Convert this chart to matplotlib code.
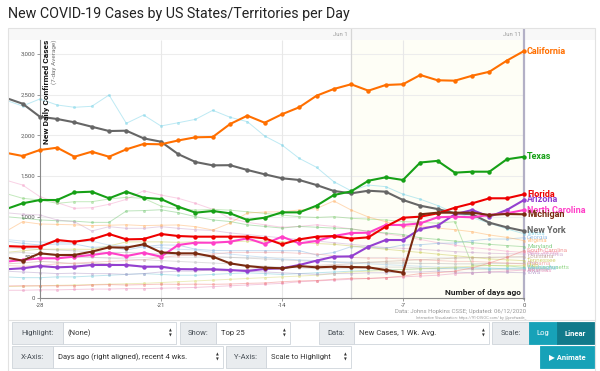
import matplotlib
matplotlib.use("Agg")
import matplotlib.pyplot as plt
from matplotlib.patches import Rectangle

plt.rcParams['font.family'] = ['Roboto', 'DejaVu Sans']

W, H = 600, 371

# days ago, x axis
days = list(range(-30, 1))

# highlighted states (7-day avg new cases)
california = [1787, 1746, 1820, 1848, 1737, 1799, 1737, 1828, 1894, 1890, 1937,
              1976, 1980, 2139, 2242, 2155, 2259, 2345, 2487, 2570, 2628,
              2549, 2619, 2628, 2742, 2677, 2672, 2733, 2782, 2918, 3037]
new_york = [2463, 2389, 2229, 2201, 2160, 2106, 2053, 2057, 1963, 1922, 1769,
            1672, 1631, 1633, 1574, 1521, 1472, 1451, 1389, 1316, 1287,
            1319, 1307, 1205, 1135, 1094, 1041, 1029, 926, 869, 824]
texas = [1090, 1164, 1205, 1205, 1299, 1307, 1226, 1307, 1233, 1217, 1123,
         1049, 1070, 1041, 959, 987, 1053, 1053, 1135, 1266, 1311,
         1442, 1484, 1451, 1666, 1686, 1541, 1553, 1553, 1705, 1737]
florida = [639, 631, 631, 713, 692, 721, 787, 721, 725, 787, 762,
           754, 754, 754, 754, 734, 660, 721, 754, 762, 730,
           746, 877, 987, 1000, 1041, 1110, 1164, 1226, 1226, 1275]
arizona = [353, 365, 393, 377, 385, 406, 406, 406, 385, 385, 355,
           353, 353, 344, 332, 357, 365, 406, 459, 508, 512,
           631, 713, 713, 848, 889, 1029, 1082, 1000, 1082, 1205]
north_carolina = [446, 467, 488, 488, 508, 529, 557, 516, 557, 508, 652,
                  680, 680, 692, 734, 664, 754, 672, 701, 762, 799,
                  803, 898, 898, 918, 992, 1000, 992, 1021, 1041, 1082]
michigan = [500, 459, 549, 529, 529, 570, 623, 619, 660, 561, 549,
            549, 508, 426, 393, 373, 365, 393, 377, 385, 381,
            377, 344, 311, 1029, 1049, 1049, 1049, 1021, 1033, 1029]

# the other states of the top 25 (drawn faint)
illinois = [2434, 2361, 2447, 2373, 2345, 2357, 2496, 2148, 2250, 2115, 2155,
            2197, 2308, 2222, 2168, 1992, 1881, 1717, 1607, 1430, 1318,
            1389, 1369, 1277, 1215, 1137, 1045, 990, 920, 850, 790]
new_jersey = [1451, 1389, 1246, 1172, 1103, 1110, 1152, 1213, 1319, 1266, 1226,
              1164, 1090, 980, 930, 900, 870, 880, 900, 880, 850,
              820, 790, 760, 720, 680, 650, 620, 600, 575, 560]
massachusetts = [1287, 1226, 1205, 1164, 1184, 1184, 1217, 1238, 1226, 1130, 1100,
                 1080, 1090, 1080, 1060, 1040, 1020, 1000, 990, 1000, 980,
                 970, 960, 940, 930, 920, 938, 406, 400, 395, 377]
maryland = [1000, 982, 960, 950, 945, 930, 930, 1070, 1075, 1085, 1050,
            1000, 960, 940, 900, 880, 860, 880, 870, 860, 850,
            820, 800, 780, 740, 720, 700, 680, 660, 645, 631]
pennsylvania = [1049, 1030, 1021, 959, 938, 824, 877, 857, 857, 877, 857,
                840, 830, 800, 780, 760, 740, 720, 700, 680, 660,
                640, 620, 610, 600, 585, 570, 560, 550, 545, 541]
georgia = [701, 672, 652, 664, 664, 623, 630, 590, 631, 652, 650,
           600, 585, 582, 582, 582, 582, 582, 529, 560, 631,
           625, 611, 652, 655, 672, 676, 705, 725, 725, 741]
virginia = [815, 938, 910, 905, 900, 890, 895, 900, 890, 895, 898,
            877, 836, 922, 1045, 1057, 1060, 1082, 1100, 1193, 1082,
            996, 938, 877, 890, 860, 840, 815, 775, 746, 705]
tennessee = [560, 580, 600, 600, 600, 598, 640, 690, 690, 690, 685,
             690, 680, 690, 700, 700, 690, 680, 670, 660, 640,
             620, 600, 580, 560, 540, 520, 500, 480, 470, 459]
louisiana = [420, 430, 450, 440, 420, 430, 420, 400, 380, 390, 360,
             350, 340, 330, 350, 360, 370, 380, 400, 410, 420,
             440, 450, 460, 470, 480, 490, 495, 500, 505, 508]
ohio = [620, 610, 600, 590, 580, 570, 560, 560, 550, 540, 530,
        520, 510, 500, 490, 480, 470, 460, 450, 445, 440,
        435, 430, 430, 425, 425, 420, 420, 425, 426, 426]
minnesota = [720, 700, 690, 680, 690, 700, 650, 640, 630, 620, 600,
             590, 560, 540, 520, 500, 480, 470, 460, 440, 430,
             420, 410, 400, 390, 380, 380, 370, 370, 360, 360]
alabama = [400, 390, 400, 420, 430, 440, 450, 460, 470, 500, 520,
           530, 540, 560, 560, 560, 560, 550, 540, 520, 500,
           490, 490, 480, 470, 460, 450, 450, 440, 430, 420]
indiana = [550, 560, 540, 520, 510, 500, 490, 480, 470, 460, 450,
           440, 430, 420, 400, 390, 380, 370, 360, 360, 360,
           370, 380, 380, 370, 360, 360, 350, 350, 350, 353]
washington = [260, 250, 250, 260, 260, 270, 280, 290, 300, 290, 280,
              280, 290, 300, 310, 300, 290, 300, 310, 320, 330,
              340, 350, 350, 360, 360, 370, 370, 360, 365, 369]
utah = [140, 145, 150, 155, 160, 165, 170, 175, 180, 190, 200,
        210, 220, 230, 240, 250, 260, 270, 280, 300, 320,
        330, 340, 350, 360, 370, 380, 390, 400, 400, 400]
arkansas = [95, 95, 100, 100, 105, 110, 110, 115, 115, 120, 125,
            130, 140, 150, 160, 170, 180, 200, 210, 220, 230,
            240, 250, 260, 270, 280, 300, 310, 320, 330, 344]
iowa = [330, 320, 310, 300, 305, 300, 300, 290, 300, 320, 330,
        330, 350, 340, 330, 320, 310, 300, 290, 300, 300,
        310, 310, 320, 320, 330, 320, 310, 320, 315, 311]
south_carolina = [148, 150, 150, 150, 152, 160, 165, 160, 165, 170, 168,
                  170, 168, 172, 180, 185, 200, 210, 215, 230, 242,
                  240, 250, 270, 300, 310, 330, 370, 430, 500, 582]

faint = [
    ("Illinois", illinois, '#6fd0e6'),
    ("New Jersey", new_jersey, '#f39bc6'),
    ("Massachusetts", massachusetts, '#7fcf6f'),
    ("Maryland", maryland, '#6cc46c'),
    ("Pennsylvania", pennsylvania, '#c9a0c9'),
    ("Georgia", georgia, '#7fb0e0'),
    ("Virginia", virginia, '#ffae60'),
    ("Tennessee", tennessee, '#c8c850'),
    ("Louisiana", louisiana, '#c0a090'),
    ("Ohio", ohio, '#b0b0b0'),
    ("Minnesota", minnesota, '#a0c8e8'),
    ("Alabama", alabama, '#f0a0a0'),
    ("Indiana", indiana, '#bbbbbb'),
    ("Washington", washington, '#70c8d8'),
    ("Utah", utah, '#d8d870'),
    ("Arkansas", arkansas, '#e88ab8'),
    ("Iowa", iowa, '#b09ac8'),
    ("South Carolina", south_carolina, '#f07a7a'),
]
highlighted = [
    ("New York", new_york, '#666666'),
    ("California", california, '#ff6f00'),
    ("Texas", texas, '#16a016'),
    ("Arizona", arizona, '#9440d0'),
    ("North Carolina", north_carolina, '#ff40c8'),
    ("Florida", florida, '#ee0000'),
    ("Michigan", michigan, '#7a2a10'),
]

y_ticks = [0, 500, 1000, 1500, 2000, 2500, 3000]
x_ticks = [-28, -21, -14, -7, 0]

# pixel <-> data mapping
PX_DAY0, PX_PER_DAY = 524, 17.29
PX_ZERO, PX_PER_CASE = 298, 0.08133


def day_at(px):
    return (px - PX_DAY0) / PX_PER_DAY


def val_at(py):
    return (PX_ZERO - py) / PX_PER_CASE


fig = plt.figure(figsize=(W / 100, H / 100), dpi=100)
fig.patch.set_facecolor('white')


def px_box(x0, y0, x1, y1, fc, ec='#ced4da', lw=0.6):
    fig.add_artist(Rectangle((x0 / W, 1 - y1 / H), (x1 - x0) / W, (y1 - y0) / H,
                             transform=fig.transFigure, fc=fc, ec=ec, lw=lw))


def px_text(x, y, s, **kw):
    fig.text(x / W, 1 - y / H, s, **kw)


# container border
px_box(8, 28, 595, 372, 'none', ec='#e2e2e2', lw=0.8)

ax = fig.add_axes([8 / W, 1 - 300 / H, 587 / W, 272 / H])
ax.set_facecolor('none')
ax.set_xlim(day_at(8), day_at(595))
ax.set_ylim(val_at(300), val_at(28))

# top strip + tinted recent region
ax.add_patch(Rectangle((day_at(8), val_at(40)), day_at(595) - day_at(8), val_at(28) - val_at(40),
                       fc='#f8f8f8', ec='none', zorder=0))
ax.add_patch(Rectangle((-10, val_at(300)), 10, val_at(40) - val_at(300),
                       fc='#fefef6', ec='none', zorder=0))

ax.hlines(y_ticks[1:], -28, 0, color='#ededed', lw=0.8, zorder=0.5)
ax.vlines([-21, -14, -7], 0, val_at(40), color='#e8e8e8', lw=0.8, zorder=0.5)
ax.vlines(-10, val_at(300), val_at(28), color='#d6d6d6', lw=0.9, zorder=0.6)
ax.vlines(0, val_at(300), val_at(28), color='#b3b0c6', lw=1.6, zorder=0.6)
ax.text(day_at(348), val_at(34), "Jun 1", fontsize=4.3, color='#9a9a9a', ha='right', va='center')
ax.text(day_at(521), val_at(34), "Jun 11", fontsize=4.3, color='#9a9a9a', ha='right', va='center')

for sp in ['top', 'right']:
    ax.spines[sp].set_visible(False)
ax.spines['left'].set_position(('data', -28))
ax.spines['left'].set_bounds(0, val_at(40))
ax.spines['bottom'].set_position(('data', 0))
ax.spines['bottom'].set_bounds(-28, 0)
for sp in ['left', 'bottom']:
    ax.spines[sp].set_color('#8a8a8a')
    ax.spines[sp].set_linewidth(0.8)
ax.set_yticks(y_ticks)
ax.set_yticklabels([f"{v:,}" for v in y_ticks])
ax.set_xticks(x_ticks)
ax.set_xticklabels([str(v) for v in x_ticks])
ax.tick_params(axis='both', labelsize=4.3, labelcolor='#555555', color='#8a8a8a',
               length=2, width=0.6, pad=1.5)

# faint lines
for name, vals, col in faint:
    ax.plot(days, vals, color=col, lw=0.7, alpha=0.45, marker='o', ms=2.2,
            mec='none', zorder=1)
    ax.text(day_at(527), vals[-1], name, fontsize=4.4, color=col,
            alpha=0.8, va='center', ha='left', clip_on=False)

for name, vals, col in highlighted:
    ax.plot(days, vals, color=col, lw=1.5, marker='o', ms=3.2, mec='none', zorder=3)
    ax.text(day_at(527), vals[-1], name, fontsize=6.5, fontweight='bold', color=col,
            va='center', ha='left', zorder=4, clip_on=False)

ax.text(day_at(43), val_at(40), "New Daily Confirmed Cases", rotation=90, fontsize=6,
        fontweight='bold', color='#111111', ha='left', va='top', zorder=5)
ax.text(day_at(51), val_at(40), "(7-day Average)", rotation=90, fontsize=4.6,
        color='#777777', ha='left', va='top', zorder=5)
ax.text(day_at(521), val_at(293), "Number of days ago", fontsize=6, fontweight='bold',
        color='#222222', ha='right', va='center', zorder=5)

px_text(8, 14, "New COVID-19 Cases by US States/Territories per Day", fontsize=10.3,
        color='#222222', va='center', ha='left')
px_text(526, 312, "Data: Johns Hopkins CSSE; Updated: 06/12/2020", fontsize=4.3,
        color='#999999', ha='right', va='center')
px_text(526, 317.5, "Interactive Visualization: https://91-DIVOC.com/ by @profwade_",
        fontsize=2.8, color='#999999', ha='right', va='center')

# controls panel
fig.add_artist(plt.Line2D([8 / W, 595 / W], [1 - 320 / H, 1 - 320 / H],
                          transform=fig.transFigure, color='#e2e2e2', lw=0.8))
LBL = '#e9ecef'
TXT = '#495057'


def control(x0, x1, x2, y0, y1, label, value):
    px_box(x0, y0, x1, y1, LBL)
    px_box(x1, y0, x2, y1, 'white')
    yc = (y0 + y1) / 2
    px_text((x0 + x1) / 2, yc, label, fontsize=5.5, color=TXT, ha='center', va='center')
    px_text(x1 + 5, yc, value, fontsize=5.5, color='#333333', ha='left', va='center')
    px_text(x2 - 6, yc - 2.2, '▲', fontsize=2.6, color='#333333', ha='center', va='center')
    px_text(x2 - 6, yc + 2.2, '▼', fontsize=2.6, color='#333333', ha='center', va='center')


r1 = (322, 344)
r2 = (346, 368)
control(12, 63, 176, r1[0], r1[1], "Highlight:", "(None)")
control(180, 216, 290, r1[0], r1[1], "Show:", "Top 25")
control(319, 354, 489, r1[0], r1[1], "Data:", "New Cases, 1 Wk. Avg.")
px_box(492, r1[0], 529, r1[1], LBL)
px_text(510.5, sum(r1) / 2, "Scale:", fontsize=5.5, color=TXT, ha='center', va='center')
px_box(529, r1[0], 557, r1[1], '#17a2b8', ec='#17a2b8')
px_text(543, sum(r1) / 2, "Log", fontsize=5.5, color='white', ha='center', va='center')
px_box(557, r1[0], 594, r1[1], '#117a8b', ec='#117a8b')
px_text(575.5, sum(r1) / 2, "Linear", fontsize=5.5, color='white', fontweight='bold',
        ha='center', va='center')

control(12, 53, 223, r2[0], r2[1], "X-Axis:", "Days ago (right aligned), recent 4 wks.")
control(226, 266, 351, r2[0], r2[1], "Y-Axis:", "Scale to Highlight")
px_box(540, r2[0], 594, r2[1], '#17a2b8', ec='#17a2b8')
px_text(567, sum(r2) / 2, "▶ Animate", fontsize=5.5, color='white', fontweight='bold',
        ha='center', va='center')

fig.savefig("out.png", dpi=100)
